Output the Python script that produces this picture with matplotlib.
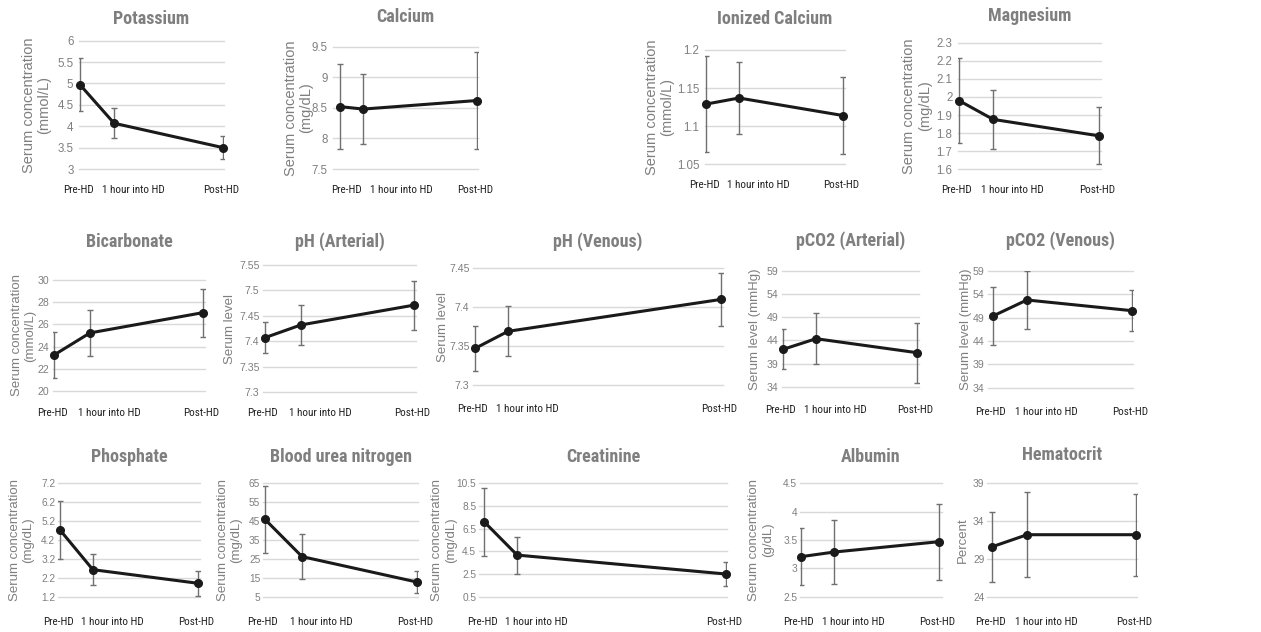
import matplotlib
matplotlib.use("Agg")
import matplotlib.pyplot as plt
import matplotlib.transforms as mtransforms
import numpy as np

W, H = 1261, 632

time_labels = ["Pre-HD", "1 hour into HD", "Post-HD"]

titles = ["Potassium", "Calcium", "Ionized Calcium", "Magnesium",
          "Bicarbonate", "pH (Arterial)", "pH (Venous)", "pCO2 (Arterial)", "pCO2 (Venous)",
          "Phosphate", "Blood urea nitrogen", "Creatinine", "Albumin", "Hematocrit"]

ylabels = ["Serum concentration\n(mmol/L)", "Serum concentration\n(mg/dL)",
           "Serum concentration\n(mmol/L)", "Serum concentration\n(mg/dL)",
           "Serum concentration\n(mmol/L)", "Serum level", "Serum level",
           "Serum level (mmHg)", "Serum level (mmHg)",
           "Serum concentration\n(mg/dL)", "Serum concentration\n(mg/dL)",
           "Serum concentration\n(mg/dL)", "Serum concentration\n(g/dL)", "Percent"]

# hour of the post-HD sample on each panel's x axis (pre = 0, 1 hour = 1)
post_hd_hour = [4.2, 5.9, 4.15, 4.1, 4.15, 4.15, 7.45, 4.05, 4.1, 4.2, 4.1, 7.3, 4.2, 4.1]

means = [
    [4.97, 4.07, 3.50],
    [8.52, 8.48, 8.62],
    [1.129, 1.137, 1.114],
    [1.98, 1.876, 1.785],
    [23.24, 25.23, 27.06],
    [7.407, 7.432, 7.471],
    [7.347, 7.369, 7.41],
    [42.07, 44.37, 41.35],
    [49.36, 52.79, 50.5],
    [4.73, 2.63, 1.91],
    [45.9, 26.2, 12.75],
    [7.12, 4.17, 2.5],
    [3.206, 3.287, 3.47],
    [30.6, 32.2, 32.2],
]

sds = [
    [0.62, 0.35, 0.26],
    [0.70, 0.57, 0.80],
    [0.063, 0.047, 0.051],
    [0.237, 0.165, 0.158],
    [2.07, 2.06, 2.17],
    [0.031, 0.039, 0.048],
    [0.029, 0.032, 0.034],
    [4.35, 5.55, 6.5],
    [6.3, 6.3, 4.4],
    [1.55, 0.82, 0.65],
    [17.6, 11.8, 6.0],
    [3.0, 1.63, 1.1],
    [0.5, 0.57, 0.67],
    [4.6, 5.6, 5.4],
]

# (min, max, step) of y ticks
yticks = [(3, 6, 0.5), (7.5, 9.5, 0.5), (1.05, 1.2, 0.05), (1.6, 2.3, 0.1),
          (20, 30, 2), (7.3, 7.55, 0.05), (7.3, 7.45, 0.05), (34, 59, 5), (34, 59, 5),
          (1.2, 7.2, 1), (5, 65, 10), (0.5, 10.5, 2), (2.5, 4.5, 0.5), (24, 39, 5)]

# layout in pixels: plot area left, right, top, bottom
rects = [(79, 224, 40.7, 169), (333, 478, 46.7, 169), (705, 845, 50, 164.3), (958, 1101, 42.7, 169.3),
         (53, 205, 280, 391), (263, 416, 265, 392), (473, 723, 268.3, 385), (782, 919, 271, 386.7),
         (988, 1133, 271, 387.7),
         (58, 200, 483.3, 596.7), (263, 418, 483.3, 596.7), (479, 727, 483.3, 596.7),
         (800, 942, 483.3, 596.7), (987, 1137, 483.3, 596.7)]
# gap in pixels between the plot edge and the first / last point
edge_gap = [(1, 1), (7, 1), (1, 2), (1, 2), (1, 2), (2, 2), (2, 2), (1, 2), (5, 1),
            (2, 2), (2, 1), (5, 1), (1, 3), (5, 1)]
# extra pixel shift of the pre / 1-hour labels
label_shift = [(0, 0), (9, 19), (0, 0), (0, 0), (0, 0), (0, 0), (0, 0), (0, 0), (0, 0),
               (0, 0), (0, 0), (0, 0), (0, 0), (0, 0)]
ylabel_x = [36.5, 298.5, 659.5, 917, 23.5, 230, 443, 755, 966, 21.5, 229.5, 444, 761, 963]
title_y = [19, 17, 19, 16, 242, 242, 242, 241, 241, 457, 457, 457, 457, 455]
xlabel_dy = [21, 21, 21, 21, 22, 21, 24, 23, 24, 25, 25, 25, 25, 25]

GREY = "#7f7f7f"
cond = ["Roboto Condensed", "DejaVu Sans"]
plain = ["Liberation Sans", "DejaVu Sans"]

fig = plt.figure(figsize=(W / 100, H / 100), dpi=100)

for i in range(len(titles)):
    x0, x1, yt, yb = rects[i]
    row = 0 if i < 4 else (1 if i < 9 else 2)
    ax = fig.add_axes([x0 / W, 1 - yb / H, (x1 - x0) / W, (yb - yt) / H])
    post = post_hd_hour[i]
    xs = [0, 1, post]
    lo, hi, step = yticks[i]
    ticks = np.arange(lo, hi + step / 2, step)

    ax.errorbar(xs, means[i], yerr=sds[i], fmt="none", ecolor="#707070",
                elinewidth=1, capsize=2.5, capthick=1, zorder=2)
    ax.plot(xs, means[i], color="#1a1a1a", lw=2.2, marker="o", ms=5.5,
            zorder=3, clip_on=False)

    ax.set_ylim(lo, hi)
    ax.set_yticks(ticks)
    ax.set_yticklabels([f"{round(t, 3):g}" for t in ticks], family=plain,
                       fontsize=[8.3, 7.6, 7.3][row], color=GREY)
    ax.grid(axis="y", color="#d9d9d9", lw=1)
    for g in ax.get_ygridlines():
        g.set_clip_on(False)
    ax.set_axisbelow(True)

    gl, gr = edge_gap[i]
    ppu = ((x1 - x0) - gl - gr) / post
    ax.set_xlim(-gl / ppu, post + gr / ppu)
    ax.set_xticks([])
    ax.tick_params(length=0)
    ax.tick_params(axis="y", pad=[4, 2.5, 2][row])
    for s in ax.spines.values():
        s.set_visible(False)

    # time point labels under the points
    base = mtransforms.blended_transform_factory(ax.transData, ax.transAxes)
    shifts = [-2 + label_shift[i][0], -12 + label_shift[i][1], -2]
    for x, lab, dx, ha in zip(xs, time_labels, shifts, ["center", "left", "center"]):
        tr = base + mtransforms.ScaledTranslation(dx / 100, -xlabel_dy[i] / 100, fig.dpi_scale_trans)
        ax.text(x, 0, lab, transform=tr, ha=ha, va="center", family=cond,
                fontsize=8, color="#222222")

    ax.set_ylabel(ylabels[i], family=plain, fontsize=10.5 if row == 0 else 9.5,
                  color=GREY, va="center", multialignment="center", linespacing=1.15)
    ax.yaxis.set_label_coords((ylabel_x[i] - x0) / (x1 - x0), 0.5)

    fig.text((x0 + x1) / 2 / W, 1 - title_y[i] / H, titles[i], family=cond,
             fontsize=13, fontweight="bold", color=GREY, ha="center", va="center")

fig.savefig("out.png", dpi=100)
